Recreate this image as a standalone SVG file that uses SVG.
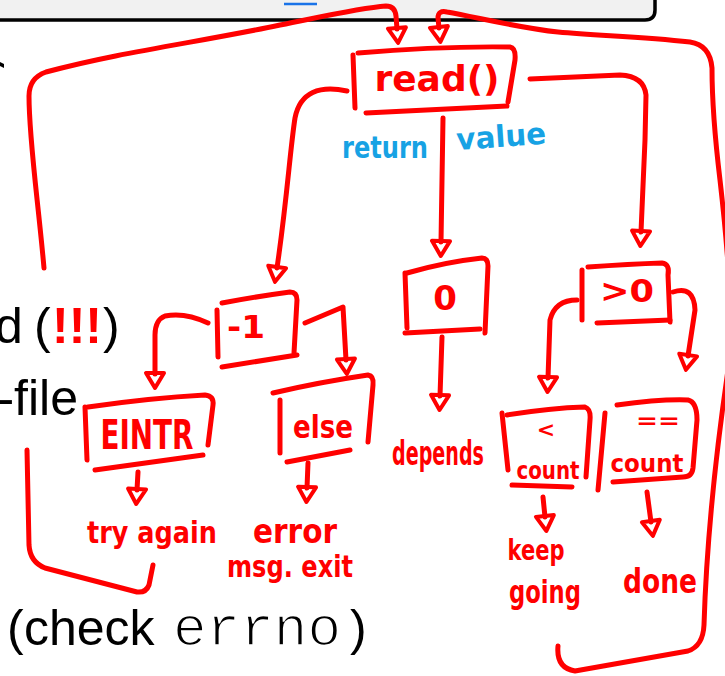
<svg xmlns="http://www.w3.org/2000/svg" width="725" height="676" viewBox="0 0 725 676">
<style>
.c{fill:none;stroke:#ff0000;stroke-width:5;stroke-linecap:round;stroke-linejoin:round}
.b{fill:none;stroke:#ff0000;stroke-width:5;stroke-linecap:round;stroke-linejoin:round}
.h{fill:#ff0000;font-family:"DejaVu Sans",sans-serif;font-weight:bold;text-anchor:middle}
.blue{fill:#17a2e4;font-family:"DejaVu Sans",sans-serif;font-weight:bold}
.s{fill:#000;font-family:"Liberation Sans",Arial,sans-serif;font-size:50px}
</style>
<defs>
<marker id="tri" markerUnits="userSpaceOnUse" markerWidth="26" markerHeight="26" viewBox="-5 -13 26 26" refX="0" refY="0" orient="auto" overflow="visible">
<path d="M-1,-9 L14,0 L-1,9 Z" fill="none" stroke="#ff0000" stroke-width="4" stroke-linejoin="round"/>
</marker>
</defs>
<rect width="725" height="676" fill="#fff"/>
<g id="slide">
<path d="M0,0 H655 V10 Q655,20 645,20 H0 Z" fill="#f1f1f1"/>
<path d="M0,20 H645 Q655,20 655,10 V0" fill="none" stroke="#000" stroke-width="3.5"/>
<line x1="284" y1="4" x2="317" y2="4" stroke="#1a73e8" stroke-width="2.5"/>
<path d="M0,62 L4,64 L4,68 L0,66 Z" fill="#000"/>
<text class="s" y="343"><tspan x="-5">d</tspan><tspan x="34">(</tspan><tspan x="52" fill="#ff0000" font-weight="bold">!!!</tspan><tspan x="103">)</tspan></text>
<text class="s" x="78" y="415" text-anchor="end">-file</text>
<text class="s" y="645"><tspan x="7">(</tspan><tspan x="24">check</tspan></text>
<text x="173" y="645" font-family="'Liberation Mono','Courier New',monospace" font-size="56" fill="#000" stroke="#fff" stroke-width="1.6">errno</text>
<text class="s" x="350" y="645">)</text>
</g>
<g id="connectors">
<path class="c" d="M44,268 C38,200 29,140 29,96 Q29,78 46,72 C120,52 200,42 280,25 C330,15 360,8 386,6 Q395,6 396,16 L397,29" marker-end="url(#tri)"/>
<path class="c" d="M558,646 Q556,668 575,671 L688,651 Q703,646 704,625 C706,560 712,480 728,370 L730,300 C728,250 724,215 720,180 C714,130 712,90 712,68 Q710,45 690,42 C640,36 600,36 558,32 C520,28 480,18 447,12 Q438,10 438,18 L439,28" marker-end="url(#tri)"/>
<path class="c" d="M347,91 C320,85 300,92 295,118 C290,150 287,200 277,268" marker-end="url(#tri)"/>
<path class="c" d="M443,118 L441,242" marker-end="url(#tri)"/>
<path class="c" d="M530,79 L620,75 Q644,76 646,95 L645,140 L641,232" marker-end="url(#tri)"/>
<path class="c" d="M442,337 L440,396" marker-end="url(#tri)"/>
<path class="c" d="M208,323 Q185,312 165,316 Q155,320 155,335 L155,374" marker-end="url(#tri)"/>
<path class="c" d="M305,323 L343,307 L346,360" marker-end="url(#tri)"/>
<path class="c" d="M577,300 Q555,300 550,320 L548,378" marker-end="url(#tri)"/>
<path class="c" d="M673,292 Q694,285 695,310 L688,356" marker-end="url(#tri)"/>
<path class="c" d="M138,472 L137,490" marker-end="url(#tri)"/>
<path class="c" d="M308,463 L307,488" marker-end="url(#tri)"/>
<path class="c" d="M543,497 L545,517" marker-end="url(#tri)"/>
<path class="c" d="M647,492 L651,522" marker-end="url(#tri)"/>
<path class="c" d="M153,565 L149,585 Q146,593 137,592 L45,568 Q30,562 29,545 L27,450"/>
</g>
<g id="read">
<path class="b" d="M353,55 L355,108"/>
<path class="b" d="M358,53 Q440,46 510,47 Q516,48 515,60 L508,102"/>
<path class="b" d="M366,113 L507,106"/>
<text class="h" x="437" y="91" font-size="36" textLength="125" lengthAdjust="spacingAndGlyphs">read()</text>
</g>
<g id="return-value-label">
<text class="blue" x="342" y="158" font-size="30" textLength="86" lengthAdjust="spacingAndGlyphs">return</text>
<text class="blue" x="457" y="150" font-size="30" textLength="90" lengthAdjust="spacingAndGlyphs" transform="rotate(-4 457 150)">value</text>
</g>
<g id="neg1">
<path class="b" d="M217,310 L218,357"/>
<path class="b" d="M222,303 Q260,296 290,292 Q297,292 297,300 L294,353"/>
<path class="b" d="M222,367 L297,355"/>
<text class="h" x="246" y="338" font-size="32" textLength="38" lengthAdjust="spacingAndGlyphs">-1</text>
</g>
<g id="zero">
<path class="b" d="M405,273 L407,328"/>
<path class="b" d="M407,273 Q445,262 482,258 Q488,258 488,266 L485,333"/>
<path class="b" d="M405,333 L480,329"/>
<text class="h" x="445" y="310" font-size="34">0</text>
</g>
<g id="positive">
<path class="b" d="M582,270 L582,320"/>
<path class="b" d="M588,267 Q630,264 662,263 Q670,264 668,275 L670,322"/>
<path class="b" d="M597,323 L670,320"/>
<text class="h" x="627" y="302" font-size="32" textLength="54" lengthAdjust="spacingAndGlyphs">&gt;0</text>
</g>
<g id="eintr">
<path class="b" d="M85,407 L87,460"/>
<path class="b" d="M88,407 Q150,398 205,395 Q214,396 213,405 L208,445"/>
<path class="b" d="M95,470 L203,455"/>
<text class="h" x="147" y="449" font-size="40" textLength="93" lengthAdjust="spacingAndGlyphs">EINTR</text>
</g>
<g id="else">
<path class="b" d="M280,400 L280,453"/>
<path class="b" d="M273,393 Q320,382 368,375 Q374,376 373,385 L368,442"/>
<path class="b" d="M287,462 L350,450"/>
<text class="h" x="323" y="438" font-size="32" textLength="60" lengthAdjust="spacingAndGlyphs">else</text>
</g>
<g id="less-count">
<path class="b" d="M502,413 L508,470"/>
<path class="b" d="M507,415 Q550,408 585,407 Q591,409 590,420 L586,477"/>
<path class="b" d="M512,485 L572,487"/>
<text class="h" x="546" y="437" font-size="22">&lt;</text>
<text class="h" x="548" y="479" font-size="24" textLength="63" lengthAdjust="spacingAndGlyphs">count</text>
</g>
<g id="eq-count">
<path class="b" d="M605,413 L598,490"/>
<path class="b" d="M617,405 Q660,399 688,400 Q697,402 697,420 L693,468 Q692,477 683,477 L613,482"/>
<text class="h" x="658" y="428" font-size="22" textLength="44" lengthAdjust="spacingAndGlyphs">==</text>
<text class="h" x="647" y="472" font-size="24" textLength="73" lengthAdjust="spacingAndGlyphs">count</text>
</g>
<g id="depends">
<text class="h" x="438" y="465" font-size="34" textLength="92" lengthAdjust="spacingAndGlyphs">depends</text>
</g>
<g id="try-again">
<text class="h" x="152" y="543" font-size="30" textLength="130" lengthAdjust="spacingAndGlyphs">try again</text>
</g>
<g id="error-exit">
<text class="h" x="295" y="543" font-size="34" textLength="84" lengthAdjust="spacingAndGlyphs">error</text>
<text class="h" x="290" y="577" font-size="30" textLength="126" lengthAdjust="spacingAndGlyphs">msg. exit</text>
</g>
<g id="keep-going">
<text class="h" x="536" y="560" font-size="28" textLength="57" lengthAdjust="spacingAndGlyphs">keep</text>
<text class="h" x="545" y="603" font-size="32" textLength="72" lengthAdjust="spacingAndGlyphs">going</text>
</g>
<g id="done">
<text class="h" x="660" y="593" font-size="34" textLength="74" lengthAdjust="spacingAndGlyphs">done</text>
</g>
</svg>
